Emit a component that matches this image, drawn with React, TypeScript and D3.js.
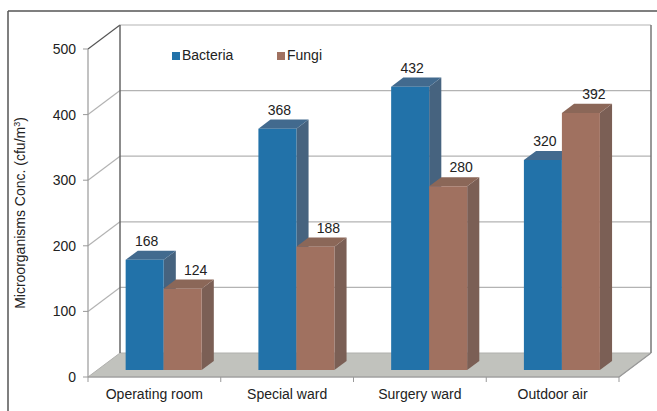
import React from "react";
import * as d3 from "d3";

const categories = ["Operating room", "Special ward", "Surgery ward", "Outdoor air"];
const seriesNames = ["Bacteria", "Fungi"];
const bacteria = [168, 368, 432, 320];
const fungi = [124, 188, 280, 392];
const yTicks = [0, 100, 200, 300, 400, 500];

const W = 657;
const H = 411;
const FONT = "'Liberation Sans', Arial, sans-serif";

// 3D geometry
const DX = 32; // full depth x offset
const DY = -24; // full depth y offset
const tFront = 0.29; // bar front plane depth fraction
const tBack = 0.67; // bar back plane depth fraction

const colors = {
  Bacteria: { front: "#2272a9", side: "#46637f", top: "#426a8e" },
  Fungi: { front: "#a07160", side: "#7b5f55", top: "#8b6758" },
};

export default function App() {
  const x = d3.scaleBand<string>().domain(categories).range([88, 619]).padding(0);
  const y = d3.scaleLinear().domain([0, 500]).range([377, 49]);
  const bw = x.bandwidth();
  const barW = 38;
  const inner = d3
    .scaleBand<string>()
    .domain(seriesNames)
    .range([(bw - 2 * barW) / 2, (bw + 2 * barW) / 2]);

  const P = (xf: number, v: number, t: number): [number, number] => [xf + DX * t, y(v) + DY * t];
  const pts = (arr: [number, number][]) => arr.map((p) => p.join(",")).join(" ");

  const xL = x(categories[0])!;
  const xR = xL + bw * categories.length;

  const data = [bacteria, fungi];

  const bars: JSX.Element[] = [];
  categories.forEach((c, ci) => {
    seriesNames.forEach((s, si) => {
      const v = data[si][ci];
      const x0 = x(c)! + inner(s)!;
      const x1 = x0 + barW;
      const col = (colors as any)[s];
      const fbl = P(x0, 0, tFront), fbr = P(x1, 0, tFront);
      const ftl = P(x0, v, tFront), ftr = P(x1, v, tFront);
      const btl = P(x0, v, tBack), btr = P(x1, v, tBack), bbr = P(x1, 0, tBack);
      const labelDx = si === 0 ? 2 : 13;
      bars.push(
        <g key={c + s}>
          <polygon points={pts([fbr, ftr, btr, bbr])} fill={col.side} />
          <polygon points={pts([ftl, ftr, btr, btl])} fill={col.top} />
          <polygon points={pts([fbl, ftl, ftr, fbr])} fill={col.front} />
          <text
            x={(ftl[0] + ftr[0]) / 2 + labelDx}
            y={btl[1] - 5}
            textAnchor="middle"
            fontSize={14}
            fill="#222"
          >
            {v}
          </text>
        </g>
      );
    });
  });

  return (
    <svg width={W} height={H} style={{ position: "absolute", left: 0, top: 0 }} fontFamily={FONT}>
      <rect width={W} height={H} fill="#fff" />
      {/* outer frame */}
      <line x1={8} y1={11} x2={W} y2={11} stroke="#555" strokeWidth={1.5} />
      <line x1={8} y1={11} x2={8} y2={H} stroke="#555" strokeWidth={1.5} />

      {/* floor */}
      <polygon points={pts([P(xL, 0, 0), P(xL, 0, 1), P(xR, 0, 1), P(xR, 0, 0)])} fill="#c1c2bd" stroke="#b0b0ad" strokeWidth={1} />

      {/* back wall gridlines */}
      {yTicks.filter((t) => t > 0).map((t) => (
        <line key={"g" + t} x1={P(xL, t, 1)[0]} y1={P(xL, t, 1)[1]} x2={P(xR, t, 1)[0]} y2={P(xR, t, 1)[1]} stroke="#b3b3b3" strokeWidth={1.2} />
      ))}
      {/* side wall gridlines */}
      {yTicks.filter((t) => t > 0).map((t) => (
        <line key={"s" + t} x1={P(xL, t, 0)[0]} y1={P(xL, t, 0)[1]} x2={P(xL, t, 1)[0]} y2={P(xL, t, 1)[1]} stroke={t === 500 ? "#555" : "#b3b3b3"} strokeWidth={1.2} />
      ))}
      {/* back wall verticals */}
      <line x1={P(xL, 0, 1)[0]} y1={P(xL, 0, 1)[1]} x2={P(xL, 500, 1)[0]} y2={P(xL, 500, 1)[1]} stroke="#666" strokeWidth={1.5} />
      <line x1={P(xR, 0, 1)[0]} y1={P(xR, 0, 1)[1]} x2={P(xR, 500, 1)[0]} y2={P(xR, 500, 1)[1]} stroke="#777" strokeWidth={1.5} />

      {/* front y axis */}
      <line x1={xL} y1={y(0)} x2={xL} y2={y(500)} stroke="#999" strokeWidth={1.2} />
      {yTicks.map((t) => (
        <g key={"yt" + t}>
          <line x1={xL - 5} y1={y(t)} x2={xL} y2={y(t)} stroke="#999" />
          <text x={76} y={y(t) + 5} textAnchor="end" fontSize={14} fill="#222">{t}</text>
        </g>
      ))}

      {/* x axis */}
      <line x1={xL} y1={y(0)} x2={xR} y2={y(0)} stroke="#999" strokeWidth={1.2} />
      <line x1={P(xR, 0, 0)[0]} y1={P(xR, 0, 0)[1]} x2={P(xR, 0, 1)[0]} y2={P(xR, 0, 1)[1]} stroke="#999" strokeWidth={1.2} />
      {d3.range(categories.length + 1).map((i) => (
        <line key={"xt" + i} x1={xL + bw * i} y1={y(0)} x2={xL + bw * i} y2={y(0) + 5} stroke="#999" />
      ))}
      {categories.map((c) => (
        <text key={"xl" + c} x={x(c)! + bw / 2} y={399} textAnchor="middle" fontSize={14} fill="#222">{c}</text>
      ))}

      {bars}

      {/* legend */}
      <rect x={172} y={52} width={8} height={8} fill={colors.Bacteria.front} />
      <text x={182} y={60} fontSize={14} fill="#222">Bacteria</text>
      <rect x={277} y={52} width={8} height={8} fill={colors.Fungi.front} />
      <text x={287} y={60} fontSize={14} fill="#222">Fungi</text>

      {/* y title */}
      <text transform={`translate(25,213) rotate(-90)`} textAnchor="middle" fontSize={14} fill="#222">
        Microorganisms Conc. (cfu/m<tspan dy={-5} fontSize={9}>3</tspan><tspan dy={5}>)</tspan>
      </text>
    </svg>
  );
}
